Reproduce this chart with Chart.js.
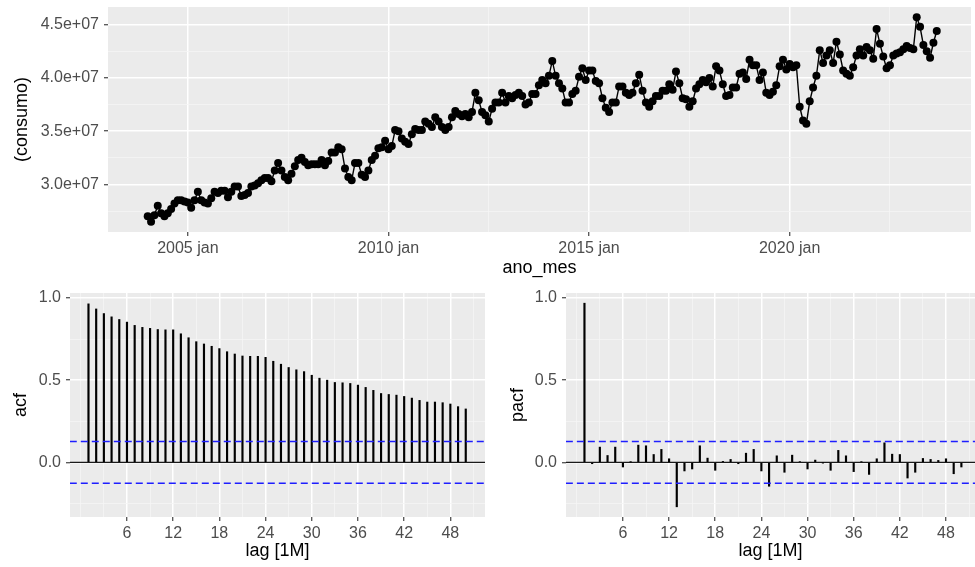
<!DOCTYPE html>
<html>
<head>
<meta charset="utf-8">
<title>consumo</title>
<script src="https://cdn.jsdelivr.net/npm/chart.js"></script>
<style>
  html, body { margin: 0; padding: 0; background: #ffffff; overflow: hidden; }
  body { width: 975px; height: 567px; position: relative; }
  canvas { position: absolute; }
  #serie { left: 0; top: 0; }
  #acf { left: 0; top: 280px; }
  #pacf { left: 485px; top: 280px; }
</style>
</head>
<body>
<canvas id="serie" width="975" height="280"></canvas>
<canvas id="acf" width="490" height="287"></canvas>
<canvas id="pacf" width="490" height="287"></canvas>

<script>
// consumo mensal (milhões), jan/2004 a set/2023
const anoInicio = 2004;
const consumoMi = [
  27.0, 26.5, 27.1, 28.0, 27.3, 27.0, 27.3, 27.7, 28.2, 28.5, 28.5, 28.4, // 2004
  28.3, 27.8, 28.5, 29.3, 28.5, 28.3, 28.2, 28.7, 29.3, 29.2, 29.4, 29.4, // 2005
  28.8, 29.3, 29.8, 29.8, 28.9, 29.0, 29.2, 29.8, 29.9, 30.1, 30.4, 30.6, // 2006
  30.6, 30.3, 31.3, 32.0, 31.3, 30.7, 30.4, 31.0, 31.7, 32.3, 32.5, 32.1, // 2007
  31.8, 31.9, 31.9, 31.9, 32.3, 31.8, 32.2, 33.0, 33.0, 33.5, 33.3, 31.5, // 2008
  30.7, 30.4, 32.0, 32.0, 30.9, 30.7, 31.3, 32.3, 32.7, 33.4, 33.5, 34.1, // 2009
  33.3, 33.6, 35.1, 35.0, 34.3, 34.0, 33.8, 34.7, 35.2, 35.1, 35.1, 35.9, // 2010
  35.7, 35.4, 36.3, 35.9, 35.4, 35.1, 35.4, 36.3, 36.9, 36.6, 36.4, 36.6, // 2011
  36.3, 36.8, 38.6, 37.9, 36.8, 36.5, 35.9, 37.1, 37.7, 37.7, 38.6, 37.7, // 2012
  38.3, 38.1, 38.4, 38.6, 38.3, 37.5, 37.7, 38.5, 38.5, 39.3, 39.8, 39.5, // 2013
  40.2, 41.6, 40.2, 39.5, 39.0, 37.7, 37.7, 38.5, 38.8, 40.1, 40.9, 39.8, // 2014
  40.7, 40.7, 39.7, 39.5, 38.1, 37.2, 36.8, 37.7, 37.7, 39.2, 39.2, 38.6, // 2015
  38.4, 38.6, 39.5, 40.3, 38.8, 37.7, 37.3, 37.8, 38.3, 38.3, 38.8, 38.8, // 2016
  39.4, 38.9, 40.6, 39.5, 38.1, 38.0, 37.3, 37.8, 39.0, 39.4, 39.8, 39.6, // 2017
  40.0, 39.2, 41.1, 40.7, 39.4, 38.3, 38.4, 39.1, 39.1, 40.4, 40.5, 39.9, // 2018
  41.7, 41.2, 41.2, 39.8, 40.5, 38.6, 38.4, 38.7, 39.3, 41.1, 41.7, 40.8, // 2019
  41.3, 41.0, 41.2, 37.3, 36.0, 35.7, 37.8, 39.1, 40.2, 42.6, 41.4, 42.1, // 2020
  42.6, 41.4, 43.4, 42.2, 40.7, 40.4, 40.2, 41.0, 42.1, 42.7, 42.1, 42.9, // 2021
  42.6, 41.8, 44.6, 43.2, 42.0, 40.9, 41.2, 42.1, 42.3, 42.4, 42.7, 43.0, // 2022
  42.8, 42.7, 45.7, 44.8, 43.1, 42.5, 41.9, 43.3, 44.4                    // 2023
];
const anoTicks = [2005, 2010, 2015, 2020];
const consumoTicks = [3.0e7, 3.5e7, 4.0e7, 4.5e7];

// autocorrelações até a defasagem 50
const lags = [
   1,  2,  3,  4,  5,  6,  7,  8,  9, 10, 11, 12, 13, 14, 15, 16, 17,
  18, 19, 20, 21, 22, 23, 24, 25, 26, 27, 28, 29, 30, 31, 32, 33, 34,
  35, 36, 37, 38, 39, 40, 41, 42, 43, 44, 45, 46, 47, 48, 49, 50
];
const acfVals = [
  0.964, 0.933, 0.905, 0.885, 0.869, 0.853, 0.833, 0.821, 0.815, 0.808,
  0.806, 0.806, 0.782, 0.758, 0.734, 0.720, 0.706, 0.692, 0.673, 0.659,
  0.647, 0.645, 0.645, 0.639, 0.615, 0.597, 0.577, 0.563, 0.552, 0.530,
  0.512, 0.500, 0.486, 0.484, 0.480, 0.470, 0.456, 0.438, 0.419, 0.413,
  0.409, 0.401, 0.391, 0.377, 0.367, 0.367, 0.363, 0.355, 0.339, 0.325
];
const pacfVals = [
  0.968, -0.008, 0.093, 0.042, 0.093, -0.028, 0.002, 0.105, 0.101, 0.048,
  0.079, 0.022, -0.270, -0.052, -0.040, 0.101, 0.026, -0.048, 0.006, 0.018,
  -0.008, 0.056, 0.079, -0.052, -0.145, 0.040, -0.060, 0.044, 0.004, -0.040,
  0.014, -0.002, -0.048, 0.073, 0.040, -0.056, 0.003, -0.073, 0.022, 0.119,
  0.050, 0.048, -0.095, -0.060, 0.024, 0.018, 0.012, 0.022, -0.069, -0.028
];
const lagTicks = [6, 12, 18, 24, 30, 36, 42, 48];
const cfTicks = [0.0, 0.5, 1.0];
const nObs = consumoMi.length;

const fonte = "'Liberation Sans', Arial, sans-serif";
const corTexto = '#4D4D4D';
const fundoCinza = '#EBEBEB';
const azul = '#1E1EFF';

// fundo cinza do painel, estilo ggplot
const fundoPainel = {
  id: 'fundoPainel',
  beforeDraw(chart) {
    const { ctx, chartArea: a } = chart;
    ctx.save();
    ctx.fillStyle = fundoCinza;
    ctx.fillRect(a.left, a.top, a.right - a.left, a.bottom - a.top);
    ctx.restore();
  }
};

// maiores + menores (pontos médios e um passo além de cada ponta)
function comMenores(maiores) {
  const d = maiores[1] - maiores[0];
  const ext = [maiores[0] - d, ...maiores, maiores[maiores.length - 1] + d];
  const out = [];
  ext.forEach((v, i) => {
    out.push(v);
    if (i < ext.length - 1) out.push(v + d / 2);
  });
  return out;
}
const ehMaior = (lista, v) => lista.some(m => Math.abs(m - v) < 1e-9);

function eixo(opts) {
  const { maiores, min, max, rotulo, largura, altura, titulo, tituloPad } = opts;
  const todos = comMenores(maiores);
  return {
    type: 'linear',
    min, max,
    offset: false,
    border: { display: false },
    afterBuildTicks(scale) {
      scale.ticks = todos.filter(v => v >= min && v <= max).map(v => ({ value: v }));
    },
    afterFit(scale) {
      if (largura !== undefined) scale.width = largura;
      if (altura !== undefined) scale.height = altura;
      scale.paddingTop = 0; scale.paddingBottom = 0;
      scale.paddingLeft = 0; scale.paddingRight = 0;
    },
    grid: {
      offset: false,
      drawTicks: true,
      tickLength: 4,
      color: c => ehMaior(maiores, c.tick.value) ? '#FFFFFF' : '#F5F5F5',
      lineWidth: c => ehMaior(maiores, c.tick.value) ? 1.5 : 0.8,
      tickColor: c => ehMaior(maiores, c.tick.value) ? '#333333' : 'rgba(0,0,0,0)',
      tickWidth: 1.1
    },
    ticks: {
      autoSkip: false,
      maxRotation: 0,
      padding: opts.tickPad,
      color: corTexto,
      font: { family: fonte, size: 16 },
      callback: v => ehMaior(maiores, v) ? rotulo(v) : ''
    },
    title: {
      display: true,
      text: titulo,
      color: '#000000',
      font: { family: fonte, size: 18 },
      padding: tituloPad
    }
  };
}

const comum = {
  responsive: false,
  animation: false,
  devicePixelRatio: 1,
  events: [],
  plugins: { legend: { display: false }, tooltip: { enabled: false } }
};

// série temporal
const pontos = consumoMi.map((v, i) => ({ x: anoInicio + i / 12, y: v * 1e6 }));
new Chart(document.getElementById('serie'), {
  type: 'line',
  data: {
    datasets: [{
      data: pontos,
      borderColor: '#000000',
      borderWidth: 1.4,
      pointRadius: 4,
      pointBorderWidth: 0,
      pointBackgroundColor: '#000000',
      tension: 0
    }]
  },
  options: {
    ...comum,
    layout: { padding: { top: 7, right: 0, left: 0, bottom: 0 } },
    scales: {
      x: eixo({
        maiores: anoTicks, min: 2003.01, max: 2024.52,
        rotulo: v => v + ' jan', altura: 48, tickPad: 3,
        titulo: 'ano_mes', tituloPad: { top: 0, bottom: 1 }
      }),
      y: eixo({
        maiores: consumoTicks, min: 2.553e7, max: 4.666e7,
        rotulo: v => v.toExponential(1).replace('e+7', 'e+07'), largura: 108, tickPad: 5,
        titulo: '(consumo)', tituloPad: { top: 11, bottom: 0 }
      })
    }
  },
  plugins: [fundoPainel]
});

// correlograma (acf / pacf)
const limite = 1.96 / Math.sqrt(nObs);
function linhaH(y, cor, largura, tracejado, ordem) {
  return {
    type: 'line',
    data: [{ x: -10, y: y }, { x: 60, y: y }],
    borderColor: cor,
    borderWidth: largura,
    borderDash: tracejado,
    pointRadius: 0,
    order: ordem
  };
}
function correlograma(id, valores, nomeY, opts) {
  new Chart(document.getElementById(id), {
    type: 'bar',
    data: {
      datasets: [
        linhaH(0, '#1A1A1A', 1.3, [], 3),
        {
          type: 'bar',
          data: lags.map((l, i) => ({ x: l, y: valores[i] })),
          backgroundColor: '#000000',
          borderWidth: 0,
          barThickness: 1.5,
          grouped: false,
          order: 2
        },
        linhaH(limite, azul, 1.5, [7, 4], 1),
        linhaH(-limite, azul, 1.5, [7, 4], 0)
      ]
    },
    options: {
      ...comum,
      layout: { padding: { top: 13, right: opts.direita, left: 0, bottom: 0 } },
      scales: {
        x: eixo({
          maiores: lagTicks, min: -1.4, max: opts.xMax,
          rotulo: v => String(v), altura: 50, tickPad: 3,
          titulo: 'lag [1M]', tituloPad: { top: 0, bottom: 4.7 }
        }),
        y: eixo({
          maiores: cfTicks, min: -0.332, max: 1.03,
          rotulo: v => v.toFixed(1), largura: opts.largura, tickPad: 5,
          titulo: nomeY, tituloPad: { top: opts.tituloX, bottom: 0 }
        })
      }
    },
    plugins: [fundoPainel]
  });
}

correlograma('acf', acfVals, 'acf', { direita: 5, largura: 70, xMax: 52.5, tituloX: 10.7 });
correlograma('pacf', pacfVals, 'pacf', { direita: 0, largura: 81, xMax: 51.77, tituloX: 22.7 });
</script>
</body>
</html>
